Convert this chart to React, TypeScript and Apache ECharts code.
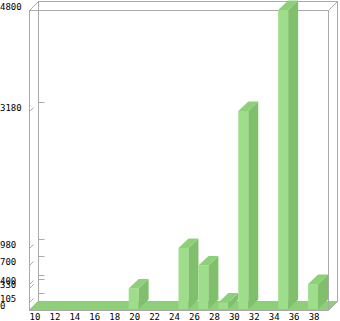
import React, { useEffect, useRef } from "react";
import * as echarts from "echarts";

const categories = ["10","11","12","13","14","15","16","17","18","19","20","21","22","23","24","25","26","27","28","29","30","31","32","33","34","35","36","37","38","39"];
const values = [0,0,0,0,0,0,0,0,0,0,330,0,0,0,0,980,0,700,0,105,0,3180,0,0,0,4800,0,0,400,0];
const yTickValues = [0, 105, 330, 400, 700, 980, 3180, 4800];
const yMax = 4800;

const GL = 29, GT = 10, GR = 328, GB = 310;
const BDX = 9, BDY = -9; // box depth
const DX = 10, DY = -9.5; // bar depth
const FRONT = "#9ede8a";
const SIDE = "#80c06c";
const TOP = "#8dd079";
const LINE = "#aaaaaa";

export default function App() {
  const ref = useRef<HTMLDivElement>(null);
  useEffect(() => {
    document.body.style.margin = "0";
    const chart = echarts.init(ref.current!, undefined, { renderer: "svg" });
    const l = GL + 0.5, t = GT + 0.5, r = GR + 0.5, b = GB + 0.5;
    const ln = (x1: number, y1: number, x2: number, y2: number) => ({
      type: "line", z: 1, shape: { x1, y1, x2, y2 }, style: { stroke: LINE, lineWidth: 1 }, silent: true,
    });
    chart.setOption({
      animation: false,
      grid: { left: GL, top: GT, right: 340 - GR, bottom: 321 - GB },
      xAxis: {
        type: "category",
        data: categories,
        boundaryGap: true,
        axisLine: { show: false },
        axisTick: { show: false },
        splitLine: { show: false },
        axisLabel: { interval: 1, margin: 3, fontSize: 9, fontFamily: "DejaVu Sans Mono", color: "#000", padding: [0, 0, 0, 2] },
      },
      yAxis: {
        type: "value",
        min: 0,
        max: yMax,
        axisLine: { show: false },
        axisTick: { show: false },
        splitLine: { show: false },
        axisLabel: { show: false },
      },
      graphic: [
        { type: "polygon", z: 0, silent: true, shape: { points: [[GL, GB], [GL + BDX, GB + BDY], [GR + BDX + 1, GB + BDY], [GR + 1, GB]] }, style: { fill: TOP } },
        ln(l + BDX, t + BDY, l + BDX, b + BDY),
        ln(l + BDX, t + BDY, r + BDX, t + BDY),
        ln(r + BDX, t + BDY, r + BDX, b + BDY),
        ln(l, t, l, b),
        ln(l, t, r, t),
        ln(r, t, r, b),
        ln(l, b, r, b),
        ln(l, t, l + BDX, t + BDY),
        ln(r, t, r + BDX, t + BDY),
        ln(r, b, r + BDX, b + BDY),
        ln(l, b, l + BDX, b + BDY),
      ],
      series: [
        {
          type: "custom",
          z: 5,
          clip: false,
          data: yTickValues.map((v) => [0, v]),
          renderItem: (params: any, api: any) => {
            const v = api.value(1);
            const p = api.coord([0, v]);
            const y = Math.round(p[1]) + 0.5;
            const children: any[] = [
              {
                type: "text",
                x: 0,
                y: p[1] - 3,
                style: { text: String(v), fontSize: 9, fontFamily: "DejaVu Sans Mono", fill: "#000", align: "left", verticalAlign: "middle" },
              },
            ];
            if (v > 0) {
              children.push(
                { type: "line", shape: { x1: l, y1: y, x2: l + 4, y2: y - 4 }, style: { stroke: LINE, lineWidth: 1 } },
                { type: "line", shape: { x1: l + BDX, y1: y + BDY, x2: l + BDX + 6, y2: y + BDY }, style: { stroke: LINE, lineWidth: 1 } },
              );
            }
            return { type: "group", children };
          },
        },
        {
          type: "custom",
          z: 6,
          data: values.map((v, i) => [i, v]),
          renderItem: (params: any, api: any) => {
            const v = api.value(1);
            if (!v) return null;
            const base = api.coord([api.value(0), 0]);
            const top = api.coord([api.value(0), v]);
            const bw = api.size([1, 0])[0];
            const x0 = base[0] - bw / 2, x1 = base[0] + bw / 2;
            const yb = base[1], yt = top[1];
            return {
              type: "group",
              children: [
                { type: "rect", shape: { x: x0, y: yt, width: x1 - x0, height: yb - yt }, style: { fill: FRONT } },
                { type: "polygon", shape: { points: [[x1, yb], [x1 + DX, yb + DY], [x1 + DX, yt + DY], [x1, yt]] }, style: { fill: SIDE } },
                { type: "polygon", shape: { points: [[x0, yt], [x1, yt], [x1 + DX, yt + DY], [x0 + DX, yt + DY]] }, style: { fill: TOP } },
              ],
            };
          },
        },
      ],
    });
    return () => chart.dispose();
  }, []);
  return <div ref={ref} style={{ width: 340, height: 321 }} />;
}
